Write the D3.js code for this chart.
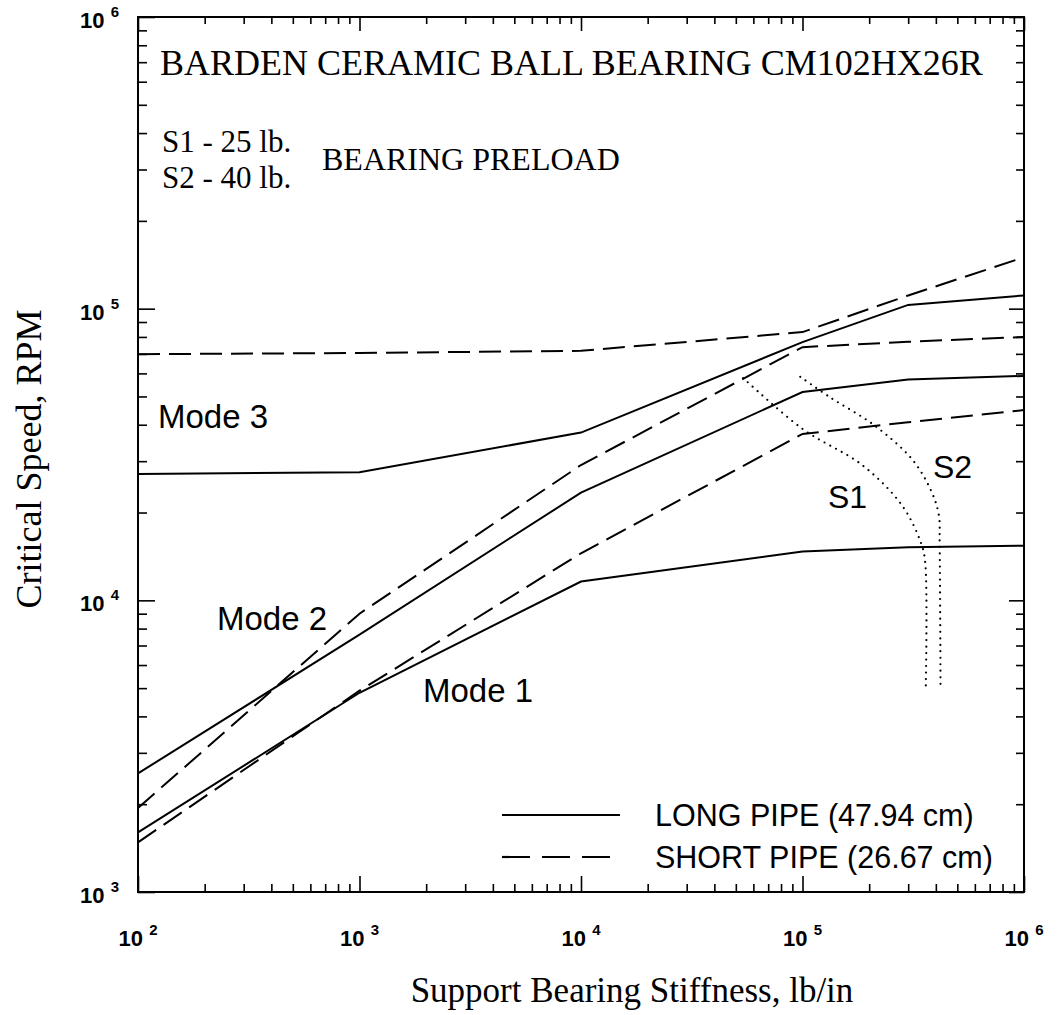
<!DOCTYPE html>
<html>
<head>
<meta charset="utf-8">
<script src="https://cdn.jsdelivr.net/npm/d3@7"></script>
<style>
  html, body { margin: 0; padding: 0; background: #fff; }
  svg { display: block; }
</style>
</head>
<body>
<svg id="chart" width="1058" height="1015"></svg>
<script>
// ---------------- data ----------------
const stiffness   = [1e2, 1e3, 1e4, 1e5, 3e5, 1e6];          // lb/in
const mode1Long   = [1600, 4820, 11600, 14700, 15200, 15400];  // RPM
const mode2Long   = [2550, 7630, 23400, 51800, 57200, 58800];
const mode3Long   = [27100, 27500, 37600, 76800, 103000, 111000];
const mode1Short  = [1480, 4900, 14500, 37200, 40800, 44900];
const mode2Short  = [1940, 9000, 29100, 73800, 77000, 80000];
const mode3Short  = [69800, 70500, 71700, 83100, 111000, 150000];

const s1Stiffness = [54000, 100000, 187000, 282000, 343000, 358000, 360000];
const s1Speed     = [57800, 38700, 29000, 21100, 15700, 13500, 4930];
const s2Stiffness = [97700, 133000, 212000, 314000, 385000, 413000, 416000, 420000];
const s2Speed     = [58400, 49700, 39700, 30300, 23300, 19500, 15700, 4930];

const xMajorTicks = [1e2, 1e3, 1e4, 1e5, 1e6];
const yMajorTicks = [1e3, 1e4, 1e5, 1e6];
const xTickLabels = ["2", "3", "4", "5", "6"];
const yTickLabels = ["3", "4", "5", "6"];
const minorMultipliers = [2, 3, 4, 5, 6, 7, 8, 9];

const legendLabels = ["LONG PIPE (47.94 cm)", "SHORT PIPE (26.67 cm)"];

// ---------------- layout ----------------
const svg = d3.select("#chart");
const L = 138, R = 1024, T = 17, B = 892;
const x = d3.scaleLog().domain([1e2, 1e6]).range([L, R]);
const y = d3.scaleLog().domain([1e3, 1e6]).range([B, T]);

const serif = "'Liberation Serif', 'Times New Roman', serif";
const sans = "'Liberation Sans', Arial, sans-serif";

function minors(majors) {
  const out = [];
  for (let i = 0; i < majors.length - 1; i++)
    minorMultipliers.forEach(m => out.push(majors[i] * m));
  return out;
}
const xMinor = minors(xMajorTicks), yMinor = minors(yMajorTicks);

function drawAxis(axisFn, scale, values, size, transform) {
  const g = svg.append("g").attr("transform", transform)
    .call(axisFn(scale).tickValues(values).tickSizeInner(-size).tickSizeOuter(0).tickFormat(""));
  g.select(".domain").remove();
  g.selectAll("line").attr("stroke", "#000").attr("stroke-width", 1.6);
}
// bottom
drawAxis(d3.axisBottom, x, xMajorTicks, 16, `translate(0,${B})`);
drawAxis(d3.axisBottom, x, xMinor, 8, `translate(0,${B})`);
// top
drawAxis(d3.axisTop, x, xMajorTicks, 14, `translate(0,${T})`);
drawAxis(d3.axisTop, x, xMinor, 7, `translate(0,${T})`);
// left
drawAxis(d3.axisLeft, y, yMajorTicks, 17, `translate(${L},0)`);
drawAxis(d3.axisLeft, y, yMinor, 9, `translate(${L},0)`);
// right
drawAxis(d3.axisRight, y, yMajorTicks, 15, `translate(${R},0)`);
drawAxis(d3.axisRight, y, yMinor, 8, `translate(${R},0)`);

// frame
svg.append("rect").attr("x", L).attr("y", T).attr("width", R - L).attr("height", B - T)
  .attr("fill", "none").attr("stroke", "#000").attr("stroke-width", 2);

// tick labels
xMajorTicks.forEach((v, i) => {
  const t = svg.append("text").attr("x", x(v)).attr("y", 946)
    .attr("text-anchor", "middle").attr("font-family", sans).attr("font-weight", "bold")
    .attr("font-size", 22).text("10 ");
  t.append("tspan").attr("dy", -11).attr("font-size", 15).text(xTickLabels[i]);
});
yMajorTicks.forEach((v, i) => {
  const t = svg.append("text").attr("x", L - 19).attr("y", y(v) + 11)
    .attr("text-anchor", "end").attr("font-family", sans).attr("font-weight", "bold")
    .attr("font-size", 22).text("10 ");
  t.append("tspan").attr("dy", -11).attr("font-size", 15).text(yTickLabels[i]);
});

// axis titles
svg.append("text").attr("x", 632).attr("y", 1002).attr("text-anchor", "middle")
  .attr("font-family", serif).attr("font-size", 35).text("Support Bearing Stiffness, lb/in");
svg.append("text").attr("transform", `translate(41,459) rotate(-90)`)
  .attr("text-anchor", "middle").attr("font-family", serif).attr("font-size", 36)
  .text("Critical Speed, RPM");

// ---------------- curves ----------------
const line = d3.line().x(d => x(d[0])).y(d => y(d[1]));
const smooth = d3.line().x(d => x(d[0])).y(d => y(d[1])).curve(d3.curveCatmullRom.alpha(0.5));
const plot = svg.append("g");

const solidSeries = [mode1Long, mode2Long, mode3Long];
const dashedSeries = [mode1Short, mode2Short, mode3Short];
const DASH = "22,9";

solidSeries.forEach(s => {
  plot.append("path").datum(stiffness.map((k, i) => [k, s[i]])).attr("d", line)
    .attr("fill", "none").attr("stroke", "#000").attr("stroke-width", 2);
});
dashedSeries.forEach(s => {
  plot.append("path").datum(stiffness.map((k, i) => [k, s[i]])).attr("d", line)
    .attr("fill", "none").attr("stroke", "#000").attr("stroke-width", 2)
    .attr("stroke-dasharray", DASH);
});
[[s1Stiffness, s1Speed], [s2Stiffness, s2Speed]].forEach(([ks, vs]) => {
  plot.append("path").datum(ks.map((k, i) => [k, vs[i]])).attr("d", smooth)
    .attr("fill", "none").attr("stroke", "#000").attr("stroke-width", 2.2)
    .attr("stroke-linecap", "round").attr("stroke-dasharray", "0,6.5");
});

// ---------------- annotations ----------------
function txt(xp, yp, s, fam, size) {
  svg.append("text").attr("x", xp).attr("y", yp).attr("font-family", fam)
    .attr("font-size", size).attr("fill", "#000").text(s);
}
txt(160, 75, "BARDEN CERAMIC BALL BEARING CM102HX26R", serif, 36);
txt(162, 152, "S1 - 25 lb.", serif, 31);
txt(162, 188, "S2 - 40 lb.", serif, 31);
txt(322, 170, "BEARING PRELOAD", serif, 32);
txt(158, 428, "Mode 3", sans, 33);
txt(217, 630, "Mode 2", sans, 33);
txt(423, 702, "Mode 1", sans, 33);
txt(828, 508, "S1", sans, 32);
txt(933, 478, "S2", sans, 32);

// legend
const legY = [815, 857];
legY.forEach((ly, i) => {
  svg.append("line").attr("x1", 502).attr("x2", 620).attr("y1", ly).attr("y2", ly)
    .attr("stroke", "#000").attr("stroke-width", 2.2)
    .attr("stroke-dasharray", i === 1 ? "28,12" : null);
  txt(655, ly + 11, legendLabels[i], sans, 30.5);
});
</script>
</body>
</html>
